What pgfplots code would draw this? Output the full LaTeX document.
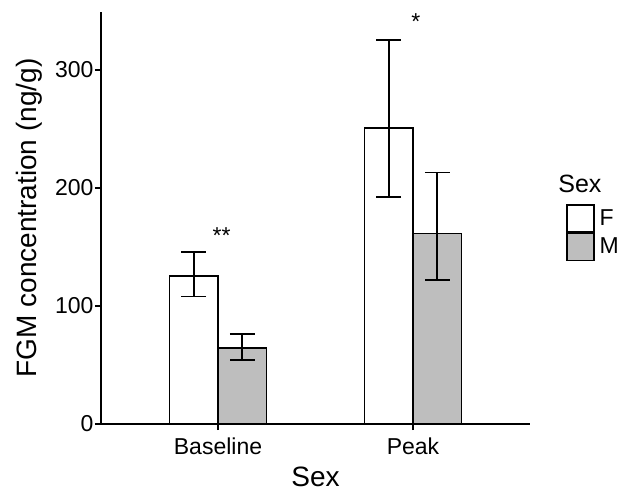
\documentclass[border=0pt]{standalone}
\usepackage{pgfplots}
\pgfplotsset{compat=1.18}
\usepackage{fontspec}
\setmainfont{Liberation Sans}
\definecolor{barM}{RGB}{190,190,190}
\begin{document}
\begin{tikzpicture}
\path[use as bounding box] (-101bp,-69bp) rectangle (518bp,424bp);
\begin{axis}[
  scale only axis,
  width=429bp, height=412bp,
  xmin=0.4, xmax=2.6, ymin=0, ymax=349,
  clip=false,
  axis lines=left,
  axis line style={-, line width=1.4bp},
  xtick={1,2}, xticklabels={Baseline,Peak},
  ytick={0,100,200,300},
  tick align=outside,
  major tick length=6bp,
  tick style={line width=1.4bp, black},
  /pgf/number format/assume math mode=true,
  ticklabel style={font=\fontsize{23bp}{28bp}\selectfont, text=black},
  xticklabel style={yshift=-4bp},
  yticklabel style={xshift=2bp},
  xlabel={Sex},
  ylabel={FGM concentration (ng/g)},
  label style={font=\fontsize{28bp}{33bp}\selectfont},
  xlabel style={yshift=-6bp},
  ylabel style={yshift=6bp},
  legend style={draw=none, fill=none, at={(1.084,0.534)}, anchor=north west,
    inner sep=0pt, row sep=0pt,
    nodes={inner sep=0pt, anchor=west, font=\fontsize{23bp}{28bp}\selectfont},
    /tikz/every odd column/.append style={column sep=5bp}},
  legend cell align=left,
]
\addplot[ybar, bar width=0.25, bar shift=0pt, fill=white, draw=black, line width=1.4bp,
  legend image code/.code={\draw[line width=1.4bp, fill=white] (0bp,-13.5bp) rectangle (27bp,13.5bp);},
  error bars/.cd, y dir=both, y explicit,
  error bar style={line width=1.8bp, black, solid},
  error mark options={rotate=90, line width=1.8bp, mark size=12.5bp, black}]
  table[x=x, y=y, y error plus=ep, y error minus=em] {
  x y ep em
  0.875 125.4 20.6 17.4
  1.875 250.6 74.8 58.0
  };
\addlegendentry{F}
\addplot[ybar, bar width=0.25, bar shift=0pt, fill=barM, draw=black, line width=1.4bp,
  legend image code/.code={\draw[line width=1.4bp, fill=barM] (0bp,-13.5bp) rectangle (27bp,13.5bp);},
  error bars/.cd, y dir=both, y explicit,
  error bar style={line width=1.8bp, black, solid},
  error mark options={rotate=90, line width=1.8bp, mark size=12.5bp, black}]
  table[x=x, y=y, y error plus=ep, y error minus=em] {
  x y ep em
  1.125 64.4 12.1 10.2
  2.125 161.6 51.4 39.6
  };
\addlegendentry{M}
\node[font=\fontsize{23bp}{28bp}\selectfont] at (axis cs:1.018,160) {**};
\node[font=\fontsize{23bp}{28bp}\selectfont] at (axis cs:2.014,341) {*};
\node[anchor=west, font=\fontsize{25bp}{30bp}\selectfont] at (axis description cs:1.058,0.583) {Sex};
\end{axis}
\end{tikzpicture}
\end{document}
